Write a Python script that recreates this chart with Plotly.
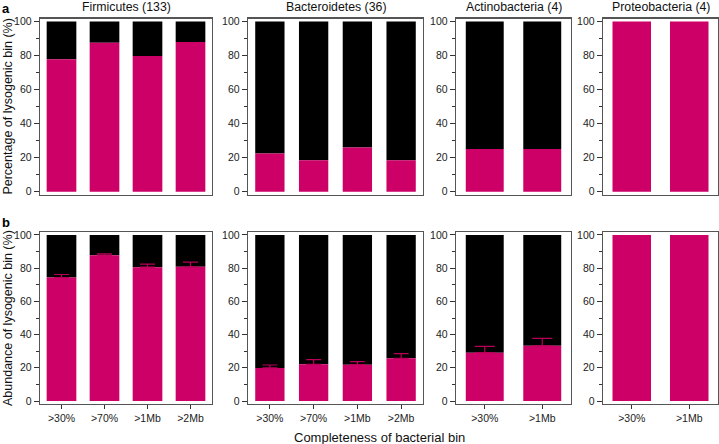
import plotly.graph_objects as go

# ---- data ----
panel_names = ["Firmicutes (133)", "Bacteroidetes (36)", "Actinobacteria (4)", "Proteobacteria (4)"]
cats_firmicutes = [">30%", ">70%", ">1Mb", ">2Mb"]
cats_bacteroidetes = [">30%", ">70%", ">1Mb", ">2Mb"]
cats_actino = [">30%", ">1Mb"]
cats_proteo = [">30%", ">1Mb"]

# (a) percentage of lysogenic bins
pct_firmicutes = [77.8, 87.5, 79.8, 88.0]
pct_bacteroidetes = [22.4, 18.4, 25.9, 18.4]
pct_actino = [25.0, 25.0]
pct_proteo = [100.0, 100.0]

# (b) abundance of lysogenic bins, with upper error
abd_firmicutes = [74.4, 87.8, 80.6, 80.8]
err_firmicutes = [1.8, 0.8, 1.8, 2.8]
abd_bacteroidetes = [19.9, 22.1, 21.9, 25.7]
err_bacteroidetes = [1.8, 2.8, 1.8, 2.8]
abd_actino = [29.1, 33.3]
err_actino = [3.8, 4.4]
abd_proteo = [100.0, 100.0]
err_proteo = [0.0, 0.0]

y_ticks = [0, 20, 40, 60, 80, 100]

MAGENTA = "#CC0066"
ERRCOL = "#B8005A"
BLACK = "#000000"
FRAME = "#555555"
FONT = "Liberation Sans, Arial, sans-serif"

W, H = 719, 444
# panel pixel boxes (x0, x1)
x_px = [(40, 212), (248, 423), (456, 571), (603, 718)]
top_px = (18.5, 194.7)
bot_px = (232, 404)

cats_list = [cats_firmicutes, cats_bacteroidetes, cats_actino, cats_proteo]
top_vals = [pct_firmicutes, pct_bacteroidetes, pct_actino, pct_proteo]
bot_vals = [abd_firmicutes, abd_bacteroidetes, abd_actino, abd_proteo]
bot_errs = [err_firmicutes, err_bacteroidetes, err_actino, err_proteo]
bar_w = [0.69, 0.67, 0.66, 0.67]
cap_w = [7.5, 7.5, 10, 10]

fig = go.Figure()
layout = dict(
    width=W, height=H, margin=dict(l=0, r=0, t=0, b=0),
    plot_bgcolor="white", paper_bgcolor="white", showlegend=False,
    barmode="overlay", hovermode=False, font=dict(family=FONT, color="#000"),
)

def yfrac(py):
    return (H - py) / H

ax = 0
annotations = []
for row in range(2):
    for p in range(4):
        ax += 1
        xn = "x" if ax == 1 else f"x{ax}"
        yn = "y" if ax == 1 else f"y{ax}"
        cats = cats_list[p]
        vals = top_vals[p] if row == 0 else bot_vals[p]
        rest = [100 - v for v in vals]
        xs = list(range(len(cats)))
        # black (non-lysogenic) part on top
        fig.add_trace(go.Bar(x=xs, y=rest, base=vals, width=bar_w[p],
                             marker=dict(color=BLACK, line=dict(width=0)),
                             xaxis=xn, yaxis=yn, hoverinfo="skip"))
        kw = {}
        if row == 1 and any(e > 0 for e in bot_errs[p]):
            kw["error_y"] = dict(type="data", array=bot_errs[p], symmetric=False,
                                 arrayminus=[0] * len(cats), color=ERRCOL,
                                 thickness=1.2, width=cap_w[p])
        fig.add_trace(go.Bar(x=xs, y=vals, width=bar_w[p],
                             marker=dict(color=MAGENTA, line=dict(width=0)),
                             xaxis=xn, yaxis=yn, hoverinfo="skip", **kw))
        py = top_px if row == 0 else bot_px
        xdom = [x_px[p][0] / W, x_px[p][1] / W]
        ydom = [yfrac(py[1]), yfrac(py[0])]
        xkey = "xaxis" if ax == 1 else f"xaxis{ax}"
        ykey = "yaxis" if ax == 1 else f"yaxis{ax}"
        xa = dict(domain=xdom, anchor=yn, range=[-0.5, len(cats) - 0.5],
                  showline=True, mirror=True, linecolor=FRAME, linewidth=1.3,
                  showgrid=False, zeroline=False, fixedrange=True, automargin=False)
        if row == 1:
            xa.update(tickmode="array", tickvals=xs, ticktext=cats, ticks="outside",
                      ticklen=4, tickwidth=1, tickcolor="#333",
                      tickfont=dict(size=10.5, family=FONT, color="#222"))
        else:
            xa.update(showticklabels=False, ticks="")
        layout[xkey] = xa
        layout[ykey] = dict(domain=ydom, anchor=xn, range=[-1.8, 101.8],
                            showline=True, mirror=True, linecolor=FRAME, linewidth=1.3,
                            showgrid=False, zeroline=False, fixedrange=True, automargin=False,
                            tickmode="array", tickvals=y_ticks, ticks="outside",
                            ticklen=5, tickwidth=1, tickcolor="#333",
                            tickfont=dict(size=10.5, family=FONT, color="#222"),
                            minor=dict(tickvals=[10, 30, 50, 70, 90], ticks="outside",
                                       ticklen=3, tickwidth=1, tickcolor="#333"))
        if row == 0:
            annotations.append(dict(text=panel_names[p], x=(x_px[p][0] + x_px[p][1]) / 2 / W,
                                    y=yfrac(7.5), xref="paper", yref="paper",
                                    showarrow=False, xanchor="center", yanchor="middle",
                                    font=dict(size=12.3, family=FONT, color="#111")))

annotations += [
    dict(text="<b>a</b>", x=0, y=yfrac(8.5), xref="paper", yref="paper", showarrow=False,
         xanchor="left", yanchor="middle", font=dict(size=13, family=FONT, color="#000")),
    dict(text="<b>b</b>", x=0, y=yfrac(222), xref="paper", yref="paper", showarrow=False,
         xanchor="left", yanchor="middle", font=dict(size=13, family=FONT, color="#000")),
    dict(text="Percentage of lysogenic bin (%)", x=8 / W, y=yfrac((top_px[0] + top_px[1]) / 2),
         xref="paper", yref="paper", showarrow=False, textangle=-90,
         xanchor="center", yanchor="middle", font=dict(size=12.5, family=FONT, color="#111")),
    dict(text="Abundance of lysogenic bin (%)", x=8 / W, y=yfrac((bot_px[0] + bot_px[1]) / 2),
         xref="paper", yref="paper", showarrow=False, textangle=-90,
         xanchor="center", yanchor="middle", font=dict(size=12.5, family=FONT, color="#111")),
    dict(text="Completeness of bacterial bin", x=379 / W, y=yfrac(437), xref="paper", yref="paper",
         showarrow=False, xanchor="center", yanchor="middle",
         font=dict(size=13, family=FONT, color="#111")),
]
layout["annotations"] = annotations
fig.update_layout(**layout)
fig.write_html("out.html", config={"displayModeBar": False, "staticPlot": True},
               post_script="document.body.style.margin='0';document.body.style.padding='0';"
                           "document.documentElement.style.overflow='hidden';")
